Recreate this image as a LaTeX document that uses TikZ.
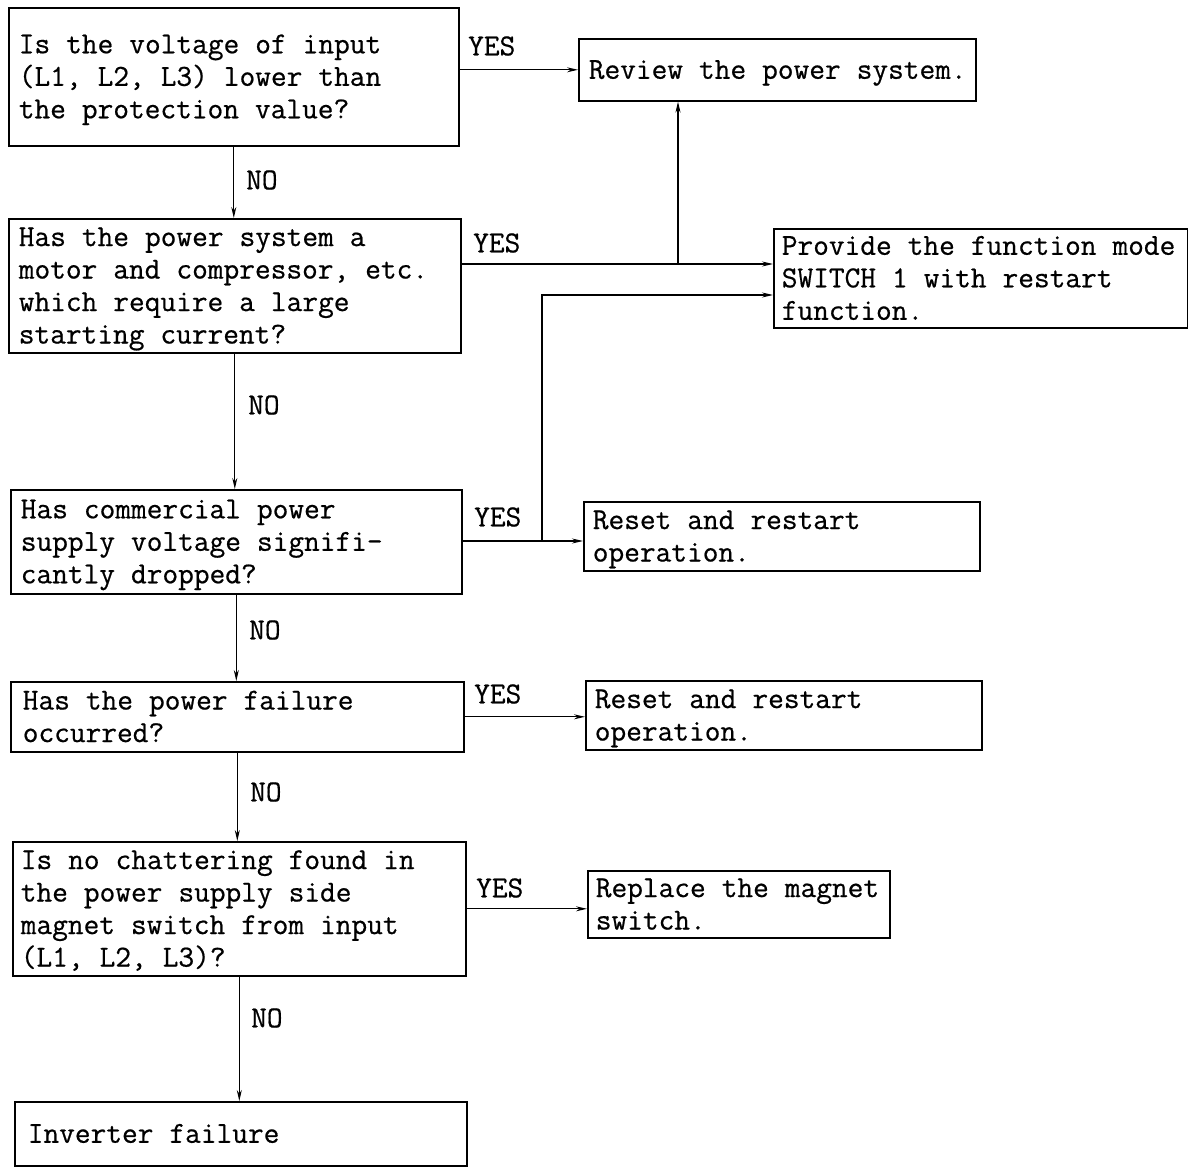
\documentclass[tikz,border=0pt]{standalone}
\usepackage{fontspec}
\usetikzlibrary{arrows.meta}
\newfontfamily\typewr{Latin Modern Mono}[FakeBold=0.6]
\protected\def\mytt{\fontsize{30.5}{32.5}\selectfont\typewr}
\protected\def\ttsp{\spaceskip=16pt\relax\xspaceskip=16pt\relax\rule{0pt}{25pt}}
\protected\def\ttend{\rule[-7pt]{0pt}{7pt}}
\begin{document}
\begin{tikzpicture}[x=1pt,y=-1pt,
  txt/.style={font=\mytt},
  box/.style={txt,draw,line width=1.6pt,anchor=north west,align=left,inner ysep=0pt,
    execute at begin node=\ttsp, execute at end node=\ttend},
  lbl/.style={txt,anchor=west,inner sep=0pt},
  conn/.style={line width=1.1pt},
  arr/.style={conn,-{Stealth[length=11pt,width=5pt]}}]
\useasboundingbox (0,0) rectangle (1188,1169);
% boxes
\node[box,minimum width=450,minimum height=138,inner xsep=10pt,text width=430pt] (Q1) at (8,7)
  {Is the voltage of input\\(L1, L2, L3) lower than\\the protection value?};
\node[box,minimum width=397,minimum height=62,inner xsep=10pt,text width=377pt] (Rev) at (578,38)
  {\mbox{Review the power system.}};
\node[box,minimum width=452,minimum height=134,inner xsep=10pt,text width=432pt] (Q2) at (8,218)
  {Has the power system a\\motor and compressor, etc.\\which require a large\\starting current?};
\node[box,minimum width=414,minimum height=99,inner xsep=8pt,text width=398pt] (Prov) at (773,228)
  {\mbox{Provide the function mode}\\SWITCH 1 with restart\\function.};
\node[box,minimum width=451,minimum height=104,inner xsep=10pt,text width=431pt] (Q3) at (10,489)
  {Has commercial power\\supply voltage signifi-\\cantly dropped?};
\node[box,minimum width=396,minimum height=69,inner xsep=9pt,text width=378pt] (R1) at (583,501)
  {Reset and restart\\operation.};
\node[box,minimum width=453,minimum height=70,inner xsep=12pt,text width=429pt] (Q4) at (10,681)
  {Has the power failure\\occurred?};
\node[box,minimum width=396,minimum height=69,inner xsep=9pt,text width=378pt] (R2) at (585,680)
  {Reset and restart\\operation.};
\node[box,minimum width=453,minimum height=134,inner xsep=8pt,text width=437pt] (Q5) at (12,841)
  {Is no chattering found in\\the power supply side\\magnet switch from input\\(L1, L2, L3)?};
\node[box,minimum width=302,minimum height=67,inner xsep=8pt,text width=286pt] (Rep) at (587,870)
  {\mbox{Replace the magnet}\\switch.};
\node[box,minimum width=452,minimum height=64,inner xsep=13pt,text width=426pt] (Inv) at (14,1101)
  {Inverter failure};
% labels
\node[lbl] (y1) at (468,46) {YES};
\node[lbl] (y2) at (473,243) {YES};
\node[lbl] (y3) at (474,517) {YES};
\node[lbl] (y4) at (474,694) {YES};
\node[lbl] (y5) at (476,888) {YES};
\node[lbl] (n1) at (246,180) {NO};
\node[lbl] (n2) at (248,405) {NO};
\node[lbl] (n3) at (249,630) {NO};
\node[lbl] (n4) at (250,792) {NO};
\node[lbl] (n5) at (251,1018) {NO};
% junction coordinates
\coordinate (j1) at (678,264);
\coordinate (j2) at (542,541);
\coordinate (j3) at (542,295);
% connectors
\draw[arr] (Q1.east |- Rev.west) -- (Rev.west);
\draw[arr] (Q1.south) -- (Q1.south |- Q2.north);
\draw[arr] (j1 -| Q2.east) -- (j1 -| Prov.west);
\draw[arr] (j1) -- (j1 |- Rev.south);
\draw[arr] (Q2.south) -- (Q2.south |- Q3.north);
\draw[arr] (j2 -| Q3.east) -- (j2 -| R1.west);
\draw[arr] (j2) -- (j3) -- (j3 -| Prov.west);
\draw[arr] (Q3.south) -- (Q3.south |- Q4.north);
\draw[arr] (Q4.east) -- (Q4.east -| R2.west);
\draw[arr] (Q4.south) -- (Q4.south |- Q5.north);
\draw[arr] (Q5.east) -- (Q5.east -| Rep.west);
\draw[arr] (Q5.south) -- (Q5.south |- Inv.north);
\end{tikzpicture}
\end{document}
